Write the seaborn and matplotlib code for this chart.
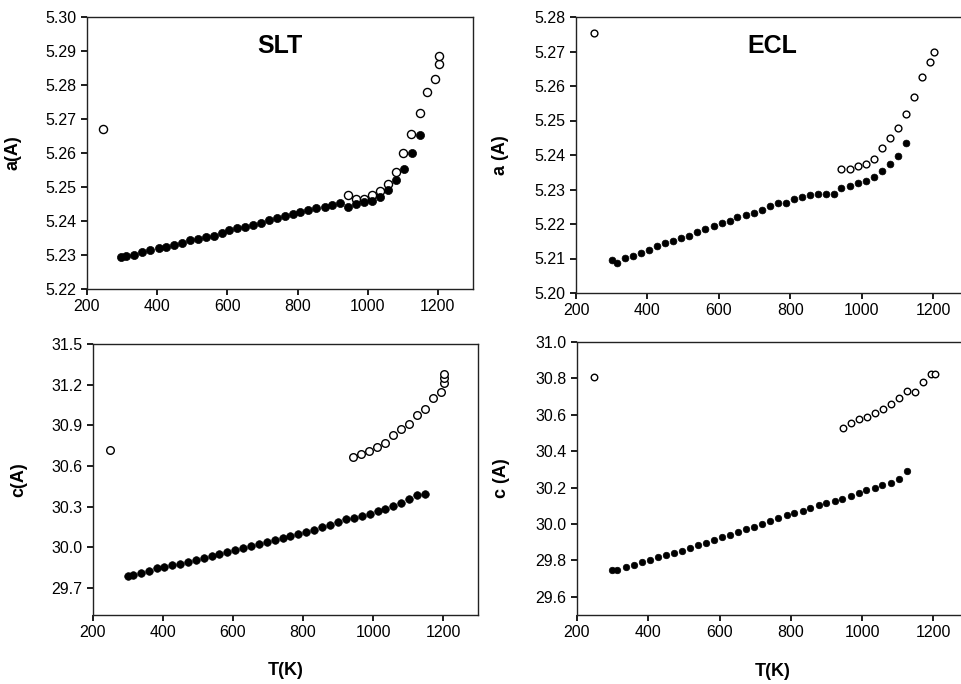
import numpy as np
import pandas as pd
import matplotlib
matplotlib.use("Agg")
import matplotlib.pyplot as plt
import seaborn as sns

#------------------------------------------------------------
# Datos (T en K, parametros de red en A)
#------------------------------------------------------------

# SLT - parametro a
slt_a_T = [297, 311, 335, 357, 380, 404, 426, 448, 471, 494, 516, 538, 561, 584,
           606, 628, 651, 674, 697, 718, 741, 764, 786, 808, 831, 854, 877, 899,
           921, 944, 968, 990, 1013, 1034, 1058, 1080, 1102, 1125, 1148]
slt_a = [5.2294, 5.2296, 5.2299, 5.2309, 5.2315, 5.2320, 5.2325, 5.2330, 5.2335,
         5.2343, 5.2347, 5.2352, 5.2357, 5.2365, 5.2373, 5.2378, 5.2383, 5.2388,
         5.2394, 5.2402, 5.2409, 5.2414, 5.2421, 5.2427, 5.2433, 5.2438, 5.2441,
         5.2446, 5.2453, 5.2442, 5.2450, 5.2455, 5.2458, 5.2470, 5.2492, 5.2521,
         5.2554, 5.2600, 5.2653]
slt_a_open_T = [245, 944, 968, 990, 1013, 1034, 1058, 1080, 1100, 1124, 1148,
                1170, 1193, 1203, 1203]
slt_a_open = [5.2671, 5.2476, 5.2464, 5.2466, 5.2476, 5.2487, 5.2510, 5.2545,
              5.2599, 5.2655, 5.2719, 5.2778, 5.2818, 5.2863, 5.2885]

# ECL - parametro a
ecl_a_T = [300, 314, 337, 360, 382, 404, 428, 450, 472, 495, 517, 540, 562, 585,
           608, 630, 652, 675, 697, 720, 742, 764, 787, 809, 832, 854, 877, 899,
           921, 943, 967, 989, 1012, 1034, 1056, 1079, 1102, 1124]
ecl_a = [5.2095, 5.2088, 5.2101, 5.2108, 5.2117, 5.2126, 5.2137, 5.2144, 5.2151,
         5.2160, 5.2166, 5.2178, 5.2185, 5.2194, 5.2204, 5.2209, 5.2219, 5.2225,
         5.2233, 5.2242, 5.2251, 5.2260, 5.2262, 5.2272, 5.2279, 5.2283, 5.2288,
         5.2288, 5.2288, 5.2303, 5.2310, 5.2320, 5.2325, 5.2337, 5.2355, 5.2373,
         5.2398, 5.2435]
ecl_a_open_T = [249, 943, 967, 989, 1012, 1034, 1056, 1079, 1102, 1124, 1147,
                1169, 1191, 1203]
ecl_a_open = [5.2755, 5.2360, 5.2359, 5.2368, 5.2374, 5.2389, 5.2419, 5.2449,
              5.2477, 5.2519, 5.2569, 5.2627, 5.2669, 5.2698]

# SLT - parametro c
slt_c_T = [301, 314, 337, 360, 382, 403, 426, 448, 471, 493, 516, 539, 561, 583,
           606, 629, 651, 674, 697, 719, 742, 764, 787, 809, 832, 855, 877, 900,
           923, 946, 968, 990, 1013, 1035, 1057, 1080, 1103, 1125, 1148]
slt_c = [29.791, 29.796, 29.808, 29.823, 29.845, 29.855, 29.867, 29.875, 29.889,
         29.904, 29.919, 29.934, 29.948, 29.963, 29.978, 29.993, 30.007, 30.025,
         30.042, 30.054, 30.069, 30.086, 30.101, 30.116, 30.130, 30.148, 30.162,
         30.184, 30.211, 30.214, 30.231, 30.246, 30.270, 30.283, 30.305, 30.329,
         30.357, 30.386, 30.393]
slt_c_open_T = [248, 944, 966, 989, 1012, 1035, 1057, 1080, 1103, 1125, 1148,
                1170, 1193, 1203, 1203, 1203]
slt_c_open = [30.718, 30.669, 30.688, 30.711, 30.740, 30.767, 30.826, 30.870,
              30.910, 30.974, 31.023, 31.099, 31.146, 31.215, 31.247, 31.276]

# ECL - parametro c
ecl_c_T = [299, 312, 337, 359, 381, 404, 426, 450, 472, 494, 517, 539, 562, 584,
           607, 629, 652, 675, 697, 720, 742, 765, 788, 810, 833, 855, 878, 900,
           923, 945, 968, 990, 1012, 1035, 1057, 1080, 1103, 1125]
ecl_c = [29.747, 29.745, 29.761, 29.774, 29.789, 29.801, 29.816, 29.827, 29.841,
         29.854, 29.868, 29.885, 29.897, 29.912, 29.928, 29.941, 29.957, 29.970,
         29.984, 29.999, 30.019, 30.031, 30.048, 30.060, 30.071, 30.086, 30.102,
         30.117, 30.129, 30.137, 30.156, 30.173, 30.185, 30.200, 30.214, 30.227,
         30.247, 30.289]
ecl_c_open_T = [249, 946, 968, 991, 1013, 1036, 1058, 1080, 1103, 1125, 1148,
                1170, 1192, 1204]
ecl_c_open = [30.809, 30.528, 30.555, 30.575, 30.586, 30.608, 30.633, 30.662,
              30.690, 30.731, 30.725, 30.782, 30.822, 30.822]

x_ticks = [200, 400, 600, 800, 1000, 1200]

#------------------------------------------------------------
# Estilo
#------------------------------------------------------------
sns.set_theme(style="ticks")
plt.rcParams['font.family'] = ['Liberation Sans', 'DejaVu Sans']
plt.rcParams['text.color'] = 'black'
plt.rcParams['axes.labelcolor'] = 'black'
plt.rcParams['xtick.color'] = 'black'
plt.rcParams['ytick.color'] = 'black'
plt.rcParams['axes.edgecolor'] = '#222222'
plt.rcParams['axes.linewidth'] = 1.0
plt.rcParams['xtick.major.size'] = 4
plt.rcParams['ytick.major.size'] = 4
plt.rcParams['xtick.labelsize'] = 11.5
plt.rcParams['ytick.labelsize'] = 11.5

fig = plt.figure(figsize=(9.61, 6.84), dpi=100)

def panel(rect, T, v, T_open, v_open, ylim, yticks, yfmt, ylabel, ms, title=None, xlabel=None):
  ax = fig.add_axes(rect)
  sns.scatterplot(x=T_open, y=v_open, ax=ax, s=ms, facecolor='white',
                  edgecolor='black', linewidth=1.0, zorder=3)
  sns.scatterplot(x=T, y=v, ax=ax, s=ms, color='black', edgecolor='black',
                  linewidth=0.5, zorder=4)
  ax.set_xlim(200, 1300)
  ax.set_ylim(*ylim)
  ax.set_xticks(x_ticks)
  ax.set_yticks(yticks)
  ax.set_yticklabels([yfmt.format(t) for t in yticks])
  ax.set_ylabel(ylabel, fontsize=13, fontweight='bold')
  ax.yaxis.set_label_coords(-0.17, 0.5)
  if xlabel:
    ax.set_xlabel(xlabel, fontsize=13, fontweight='bold')
    ax.xaxis.set_label_coords(0.5, -0.175)
  else:
    ax.set_xlabel('')
  if title:
    ax.text(0.5, 0.894, title, transform=ax.transAxes, ha='center', va='center',
            fontsize=18, fontweight='bold')
  return ax

# Posiciones en pixeles (izq, der, arriba, abajo) -> fraccion de la figura
def rect(l, r, t, b):
  return [l / 961, 1 - b / 684, (r - l) / 961, (b - t) / 684]

panel(rect(87, 473, 17, 289), slt_a_T, slt_a, slt_a_open_T, slt_a_open,
      (5.22, 5.30), np.round(np.arange(5.22, 5.301, 0.01), 2), '{:.2f}', 'a(A)', 34, title='SLT')
panel(rect(576, 969, 17, 293), ecl_a_T, ecl_a, ecl_a_open_T, ecl_a_open,
      (5.20, 5.28), np.round(np.arange(5.20, 5.281, 0.01), 2), '{:.2f}', 'a (A)', 24, title='ECL')
panel(rect(93, 478, 344, 615), slt_c_T, slt_c, slt_c_open_T, slt_c_open,
      (29.5, 31.5), np.round(np.arange(29.7, 31.51, 0.3), 1), '{:.1f}', 'c(A)', 30, xlabel='T(K)')
panel(rect(577, 969, 342, 615), ecl_c_T, ecl_c, ecl_c_open_T, ecl_c_open,
      (29.5, 31.0), np.round(np.arange(29.6, 31.01, 0.2), 1), '{:.1f}', 'c (A)', 22, xlabel='T(K)')

fig.savefig('out.png', dpi=100)
